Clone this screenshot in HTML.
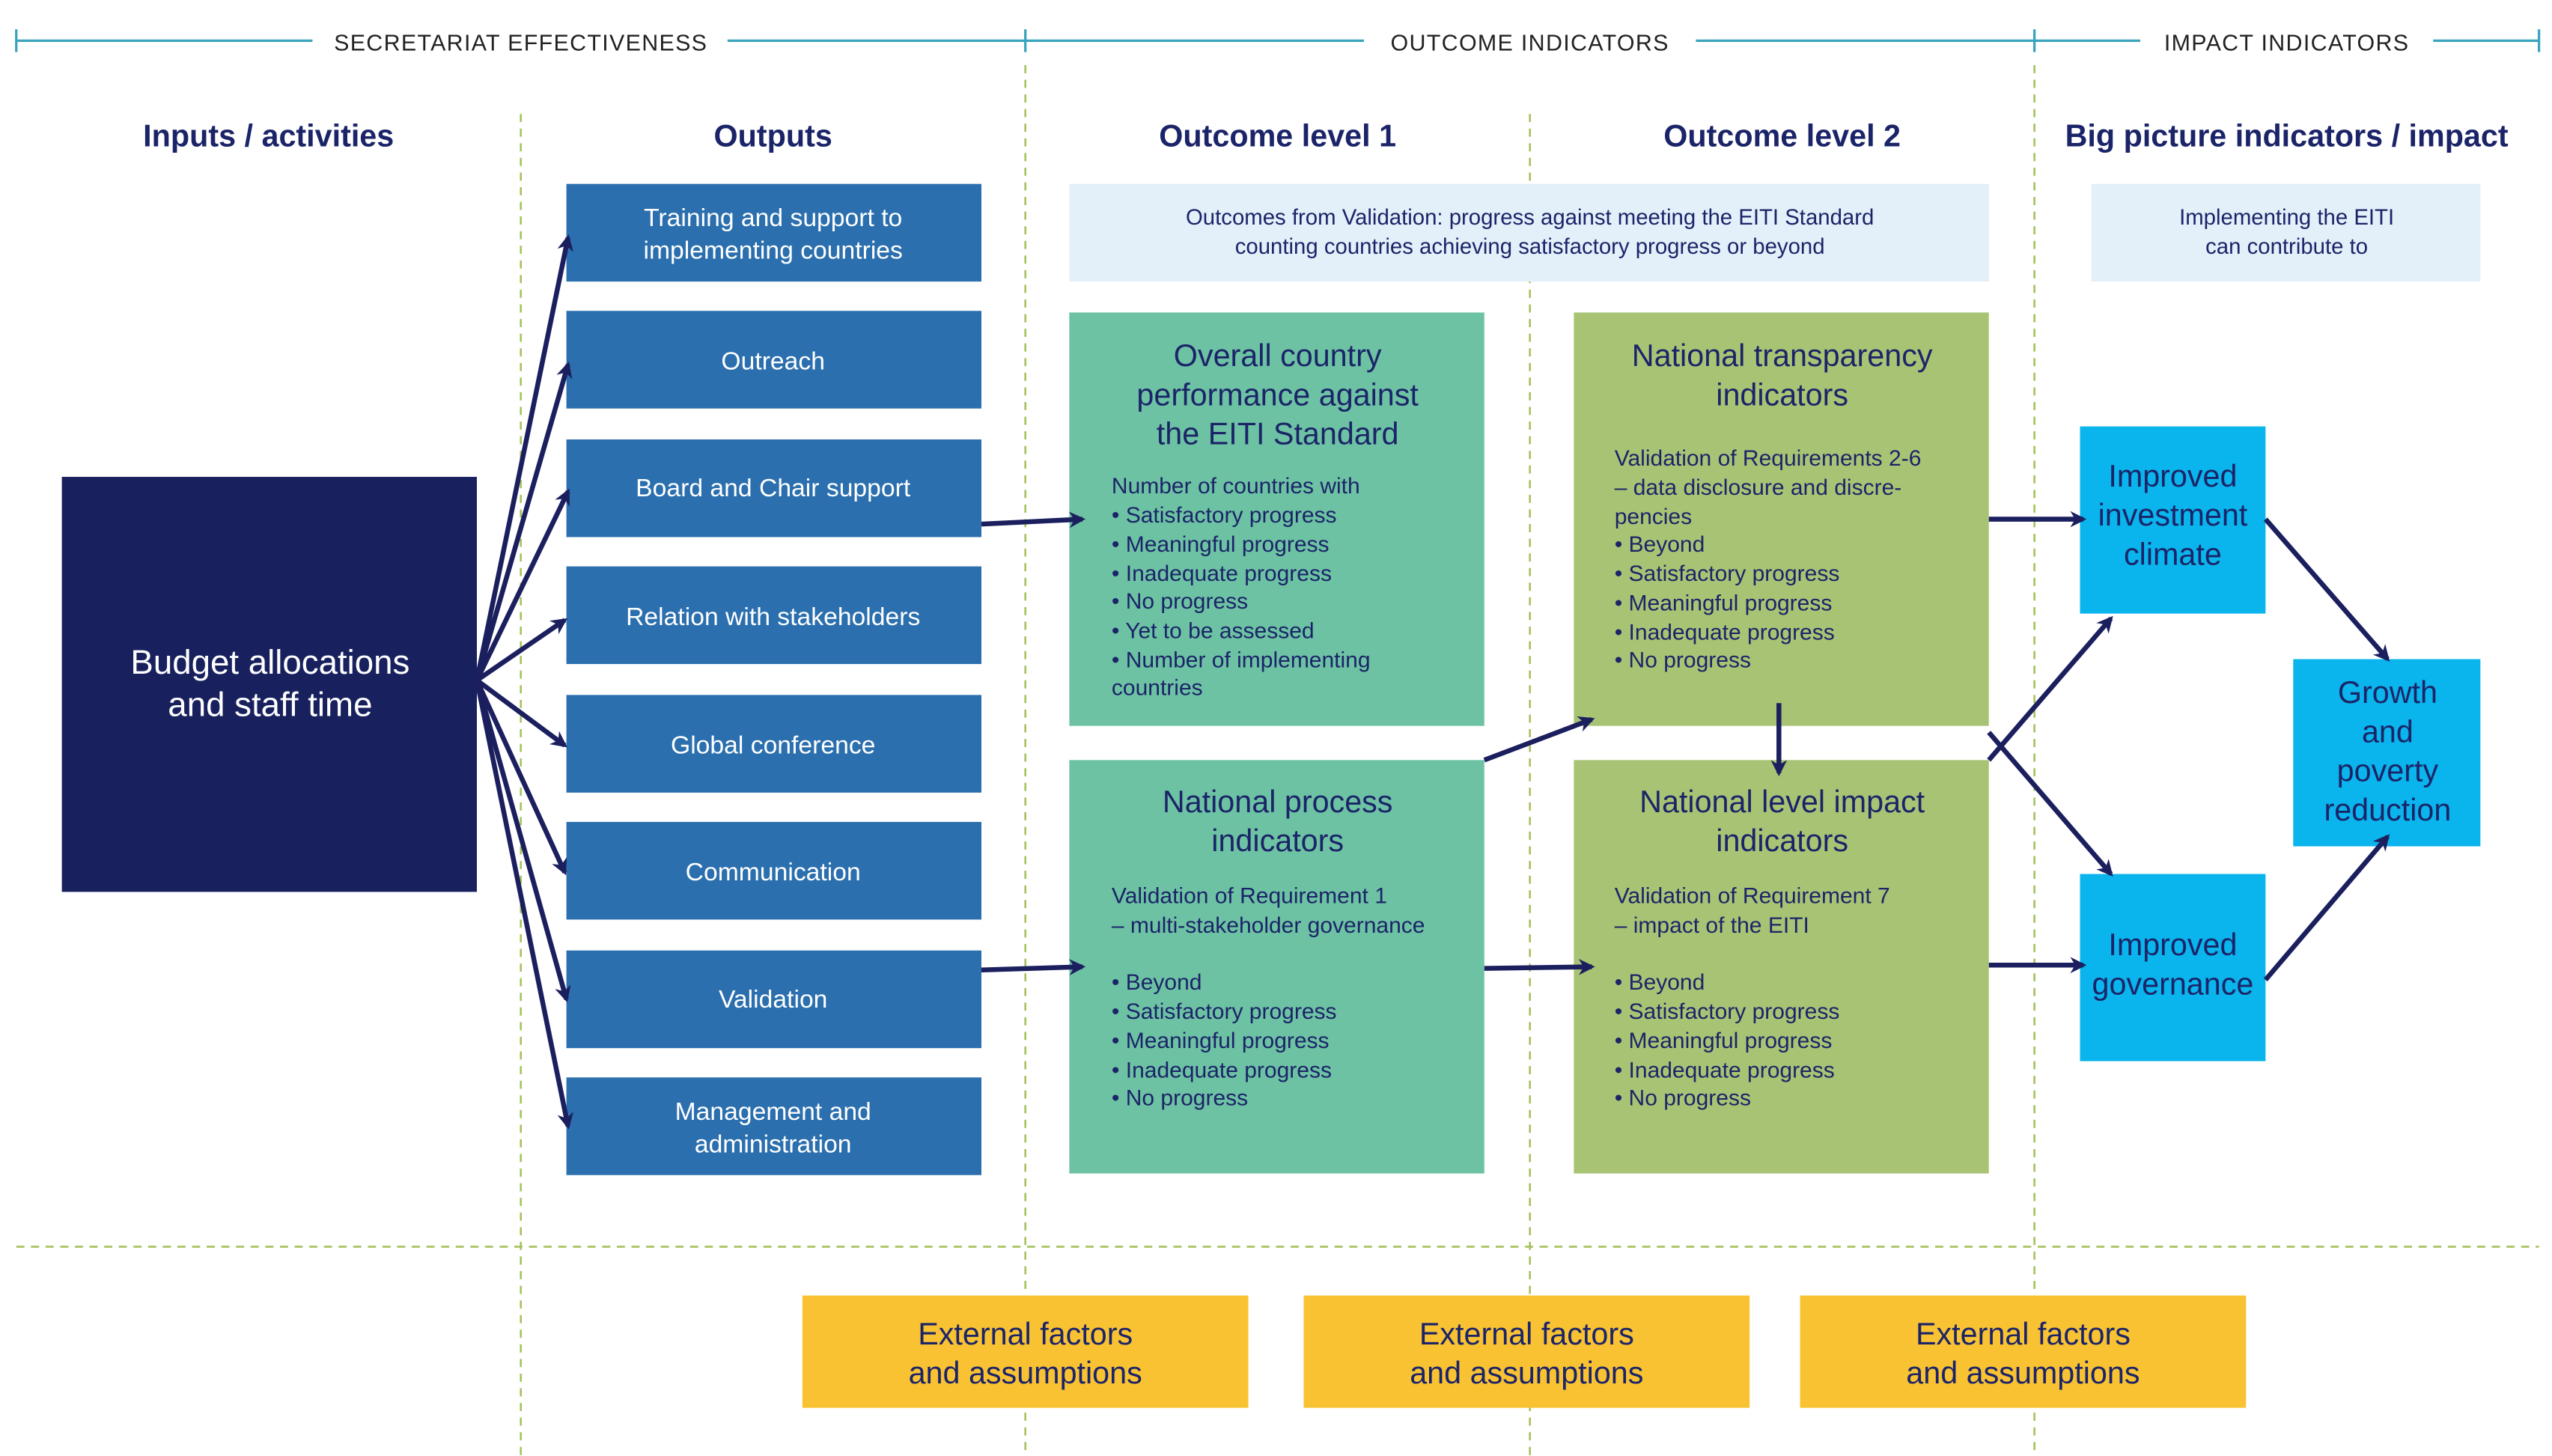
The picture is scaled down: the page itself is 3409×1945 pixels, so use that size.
<!DOCTYPE html>
<html><head><meta charset="utf-8"><style>
html,body{margin:0;padding:0;background:#fff;}
svg{display:block;}
text{font-family:"Liberation Sans",sans-serif;}
</style></head><body>
<svg width="3409" height="1945" viewBox="0 0 1568 894.6" preserveAspectRatio="none" xmlns="http://www.w3.org/2000/svg">
<defs>
<marker id="a" markerWidth="10" markerHeight="10" refX="8" refY="5" orient="auto" markerUnits="userSpaceOnUse"><path d="M0,0 L10,5 L0,10 L3,5 z" fill="#1b1f5e"/></marker>
</defs>
<g stroke="#3aa3bd" stroke-width="1.5">
<line x1="10" y1="25" x2="192" y2="25"/><line x1="447" y1="25" x2="838" y2="25"/>
<line x1="1042" y1="25" x2="1315" y2="25"/><line x1="1495" y1="25" x2="1560" y2="25"/>
<line x1="10" y1="18" x2="10" y2="32"/><line x1="630" y1="18" x2="630" y2="32"/>
<line x1="1250" y1="18" x2="1250" y2="32"/><line x1="1560" y1="18" x2="1560" y2="32"/>
</g>
<g font-size="14" fill="#222" text-anchor="middle" letter-spacing="0.6">
<text x="320" y="31">SECRETARIAT EFFECTIVENESS</text>
<text x="940" y="31">OUTCOME INDICATORS</text>
<text x="1405" y="31">IMPACT INDICATORS</text>
</g>
<g stroke="#a5c25c" stroke-width="1.2" stroke-dasharray="5,4">
<line x1="320" y1="70" x2="320" y2="894"/><line x1="630" y1="40" x2="630" y2="894"/>
<line x1="940" y1="70" x2="940" y2="894"/><line x1="1250" y1="40" x2="1250" y2="894"/>
<line x1="10" y1="766" x2="1560" y2="766"/>
</g>
<g font-size="19" font-weight="bold" fill="#1b2468" text-anchor="middle">
<text x="165" y="90">Inputs / activities</text>
<text x="475" y="90">Outputs</text>
<text x="785" y="90">Outcome level 1</text>
<text x="1095" y="90">Outcome level 2</text>
<text x="1405" y="90">Big picture indicators / impact</text>
</g>
<rect x="38" y="293" width="255" height="255" fill="#18215e"/>
<text x="166" y="414" font-size="21" fill="#fff" text-anchor="middle">Budget allocations</text>
<text x="166" y="440" font-size="21" fill="#fff" text-anchor="middle">and staff time</text>
<g fill="#2b6fae">
<rect x="348" y="113" width="255" height="60"/><rect x="348" y="191" width="255" height="60"/>
<rect x="348" y="270" width="255" height="60"/><rect x="348" y="348" width="255" height="60"/>
<rect x="348" y="427" width="255" height="60"/><rect x="348" y="505" width="255" height="60"/>
<rect x="348" y="584" width="255" height="60"/><rect x="348" y="662" width="255" height="60"/>
</g>
<g font-size="15.5" fill="#fff" text-anchor="middle">
<text x="475" y="139">Training and support to</text><text x="475" y="159">implementing countries</text>
<text x="475" y="227">Outreach</text>
<text x="475" y="305">Board and Chair support</text>
<text x="475" y="384">Relation with stakeholders</text>
<text x="475" y="463">Global conference</text>
<text x="475" y="541">Communication</text>
<text x="475" y="619">Validation</text>
<text x="475" y="688">Management and</text><text x="475" y="708">administration</text>
</g>
<rect x="657" y="113" width="565" height="60" fill="#e3eff9"/>
<rect x="1285" y="113" width="239" height="60" fill="#e3eff9"/>
<g font-size="13.5" fill="#1b2468" text-anchor="middle">
<text x="940" y="138">Outcomes from Validation: progress against meeting the EITI Standard</text>
<text x="940" y="156">counting countries achieving satisfactory progress or beyond</text>
<text x="1405" y="138">Implementing the EITI</text>
<text x="1405" y="156">can contribute to</text>
</g>
<rect x="657" y="192" width="255" height="254" fill="#6dc2a3"/>
<rect x="657" y="467" width="255" height="254" fill="#6dc2a3"/>
<rect x="967" y="192" width="255" height="254" fill="#a9c374"/>
<rect x="967" y="467" width="255" height="254" fill="#a9c374"/>
<g font-size="19" fill="#1b2468" text-anchor="middle">
<text x="785" y="225">Overall country</text><text x="785" y="249">performance against</text><text x="785" y="273">the EITI Standard</text>
<text x="1095" y="225">National transparency</text><text x="1095" y="249">indicators</text>
<text x="785" y="499">National process</text><text x="785" y="523">indicators</text>
<text x="1095" y="499">National level impact</text><text x="1095" y="523">indicators</text>
</g>
<g font-size="13.8" fill="#1b2468">
<text x="683" y="303">Number of countries with</text>
<text x="683" y="321">• Satisfactory progress</text>
<text x="683" y="339">• Meaningful progress</text>
<text x="683" y="357">• Inadequate progress</text>
<text x="683" y="374">• No progress</text>
<text x="683" y="392">• Yet to be assessed</text>
<text x="683" y="410">• Number of implementing</text>
<text x="683" y="427">countries</text>
<text x="992" y="286">Validation of Requirements 2-6</text>
<text x="992" y="304">– data disclosure and discre-</text>
<text x="992" y="322">pencies</text>
<text x="992" y="339">• Beyond</text>
<text x="992" y="357">• Satisfactory progress</text>
<text x="992" y="375">• Meaningful progress</text>
<text x="992" y="393">• Inadequate progress</text>
<text x="992" y="410">• No progress</text>
<text x="683" y="555">Validation of Requirement 1</text>
<text x="683" y="573">– multi-stakeholder governance</text>
<text x="683" y="608">• Beyond</text>
<text x="683" y="626">• Satisfactory progress</text>
<text x="683" y="644">• Meaningful progress</text>
<text x="683" y="662">• Inadequate progress</text>
<text x="683" y="679">• No progress</text>
<text x="992" y="555">Validation of Requirement 7</text>
<text x="992" y="573">– impact of the EITI</text>
<text x="992" y="608">• Beyond</text>
<text x="992" y="626">• Satisfactory progress</text>
<text x="992" y="644">• Meaningful progress</text>
<text x="992" y="662">• Inadequate progress</text>
<text x="992" y="679">• No progress</text>
</g>
<g fill="#0ab4ec">
<rect x="1278" y="262" width="114" height="115"/>
<rect x="1278" y="537" width="114" height="115"/>
<rect x="1409" y="405" width="115" height="115"/>
</g>
<g font-size="19" fill="#1b2468" text-anchor="middle">
<text x="1335" y="299">Improved</text><text x="1335" y="323">investment</text><text x="1335" y="347">climate</text>
<text x="1335" y="587">Improved</text><text x="1335" y="611">governance</text>
<text x="1467" y="432">Growth</text><text x="1467" y="456">and</text><text x="1467" y="480">poverty</text><text x="1467" y="504">reduction</text>
</g>
<g fill="#f9c232">
<rect x="493" y="796" width="274" height="69"/>
<rect x="801" y="796" width="274" height="69"/>
<rect x="1106" y="796" width="274" height="69"/>
</g>
<g font-size="19" fill="#1b2468" text-anchor="middle">
<text x="630" y="826">External factors</text><text x="630" y="850">and assumptions</text>
<text x="938" y="826">External factors</text><text x="938" y="850">and assumptions</text>
<text x="1243" y="826">External factors</text><text x="1243" y="850">and assumptions</text>
</g>
<g stroke="#1b1f5e" stroke-width="3" fill="none" marker-end="url(#a)">
<line x1="293" y1="418" x2="349" y2="146"/>
<line x1="293" y1="418" x2="349" y2="224"/>
<line x1="293" y1="418" x2="349" y2="302"/>
<line x1="293" y1="418" x2="347" y2="381"/>
<line x1="293" y1="418" x2="347" y2="458"/>
<line x1="293" y1="418" x2="347" y2="536"/>
<line x1="293" y1="418" x2="348" y2="614"/>
<line x1="293" y1="418" x2="349" y2="692"/>
<line x1="603" y1="322" x2="665" y2="319"/>
<line x1="603" y1="596" x2="665" y2="594"/>
<line x1="912" y1="467" x2="978" y2="442"/>
<line x1="912" y1="595" x2="978" y2="594"/>
<line x1="1093" y1="432" x2="1093" y2="475"/>
<line x1="1222" y1="319" x2="1280" y2="319"/>
<line x1="1222" y1="593" x2="1280" y2="593"/>
<line x1="1222" y1="467" x2="1297" y2="380"/>
<line x1="1222" y1="450" x2="1297" y2="537"/>
<line x1="1392" y1="319" x2="1467" y2="405"/>
<line x1="1392" y1="602" x2="1467" y2="514"/>
</g>
</svg>
</body></html>
